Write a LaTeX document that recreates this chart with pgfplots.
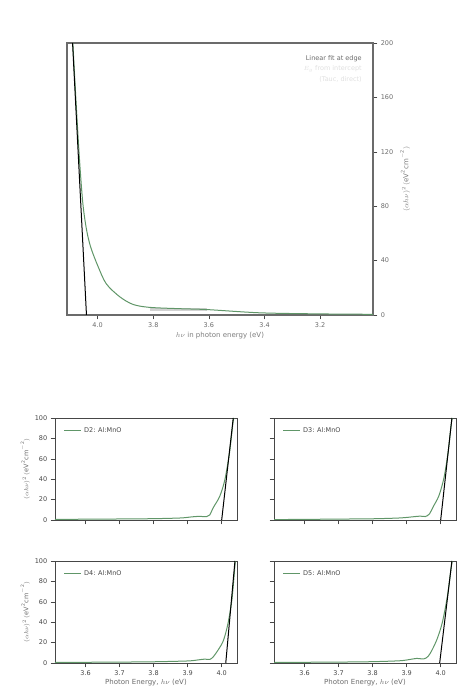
\documentclass[border=0pt]{standalone}
\usepackage{fontspec}
\setmainfont{DejaVu Sans}
\usepackage{pgfplots}
\pgfplotsset{compat=1.18}

\definecolor{curve}{RGB}{96,150,104}
\definecolor{frame}{RGB}{70,70,70}

\pgfplotsset{
  tauc/.style={
    scale only axis, width=182pt, height=102pt,
    xmin=3.51, xmax=4.045, ymin=0, ymax=100,
    xtick={3.6,3.7,3.8,3.9,4.0},
    ytick={0,20,40,60,80,100},
    tick align=outside, tick pos=left,
    axis line style={frame, line width=0.9pt},
    every tick/.style={frame},
    tick label style={font=\fontsize{6.5}{7}\selectfont, text=frame},
    /pgf/number format/assume math mode=true,
    /pgf/number format/fixed, /pgf/number format/precision=1,
    xticklabel style={/pgf/number format/fixed zerofill},
    legend style={draw=none, fill=none, at={(0.03,0.95)}, anchor=north west,
      font=\fontsize{6.5}{7}\selectfont, text=frame},
    legend cell align=left,
    legend image post style={line width=1.4pt},
  },
  fitline/.style={black, line width=1pt},
  datacurve/.style={curve, line width=1pt, smooth},
}

\begin{document}
\begin{tikzpicture}

% overview curve with the fitted edge
\begin{axis}[
  at={(67pt,383pt)}, anchor=south west,
  scale only axis, width=306pt, height=272pt,
  x dir=reverse, xmin=3.01, xmax=4.11, ymin=0, ymax=200,
  xtick={4.0,3.8,3.6,3.4,3.2},
  ytick={0,40,80,120,160,200},
  tick align=outside,
  xtick pos=bottom, ytick pos=right, yticklabel pos=right,
  axis line style={frame!80, line width=1.1pt},
  every tick/.style={frame},
  tick label style={font=\fontsize{6.5}{7}\selectfont, text=frame!80},
  /pgf/number format/assume math mode=true,
  xticklabel style={/pgf/number format/fixed, /pgf/number format/fixed zerofill, /pgf/number format/precision=1},
  xlabel={$h\nu$ in photon energy (eV)},
  xlabel style={font=\fontsize{7}{8}\selectfont, text=frame!70, yshift=2pt},
  ylabel={$(\alpha h\nu)^2\,(\mathrm{eV^2cm^{-2}})$},
  ylabel style={font=\fontsize{7}{8}\selectfont, text=frame!70},
  legend style={draw=none, fill=none, at={(0.98,0.97)}, anchor=north east,
    font=\fontsize{6.5}{7}\selectfont, text=frame!80},
  legend cell align=right,
]
\addplot[gray!35, line width=3pt, forget plot] coordinates {(3.813,4) (3.608,4)};
\addplot[datacurve, forget plot] coordinates {
  (4.089,200) (4.077,155) (4.065,114) (4.053,82) (4.04,63) (4.025,50)
  (3.999,36) (3.969,23) (3.921,13.5) (3.873,7.8) (3.813,5.6) (3.7,4.6)
  (3.608,4) (3.416,1.6) (3.2,0.8) (3.009,0.5)
};
\addplot[fitline, forget plot] coordinates {(4.090,200) (4.040,0)};
\addlegendimage{empty legend}
\addlegendentry{Linear fit at edge}
\addlegendimage{empty legend}
\addlegendentry{\textcolor{gray!25}{$E_g$ from intercept}}
\addlegendimage{empty legend}
\addlegendentry{\textcolor{gray!25}{(Tauc, direct)}}
\end{axis}

% D2
\begin{axis}[tauc, at={(55pt,178pt)}, anchor=south west,
  xticklabels={},
  ylabel={$(\alpha h\nu)^2\,(\mathrm{eV^2cm^{-2}})$},
  ylabel style={font=\fontsize{6.5}{7}\selectfont, text=frame!80, yshift=-2pt}]
\addplot[datacurve] coordinates {
  (3.51,0.5) (3.6,0.8) (3.7,1.0) (3.8,1.3) (3.88,2) (3.91,3) (3.935,3.6)
  (3.955,3.2) (3.965,5) (3.975,12) (3.994,23) (4.009,39) (4.023,66)
  (4.033,95) (4.036,100)
};
\addlegendentry{D2: Al:MnO}
\addplot[fitline] coordinates {(4.0,0) (4.034,100)};
\end{axis}

% D3
\begin{axis}[tauc, at={(274pt,178pt)}, anchor=south west,
  xticklabels={}, yticklabels={}]
\addplot[datacurve] coordinates {
  (3.51,0.4) (3.6,0.6) (3.7,0.9) (3.8,1.2) (3.88,2) (3.92,3.2) (3.94,3.8)
  (3.955,3.4) (3.967,6) (3.978,13) (3.995,24) (4.01,42) (4.022,67)
  (4.031,94) (4.034,100)
};
\addlegendentry{D3: Al:MnO}
\addplot[fitline] coordinates {(4.0,0) (4.033,100)};
\end{axis}

% D4
\begin{axis}[tauc, at={(55pt,35pt)}, anchor=south west,
  xlabel={Photon Energy, $h\nu$ (eV)},
  xlabel style={font=\fontsize{7}{8}\selectfont, text=frame!80, yshift=3pt},
  ylabel={$(\alpha h\nu)^2\,(\mathrm{eV^2cm^{-2}})$},
  ylabel style={font=\fontsize{6.5}{7}\selectfont, text=frame!80, yshift=-2pt}]
\addplot[datacurve] coordinates {
  (3.51,0.5) (3.6,0.7) (3.7,0.9) (3.8,1.2) (3.9,2) (3.93,3) (3.95,3.8)
  (3.965,3.5) (3.975,6) (3.99,13) (4.005,22) (4.018,38) (4.03,62)
  (4.038,92) (4.04,100)
};
\addlegendentry{D4: Al:MnO}
\addplot[fitline] coordinates {(4.012,0) (4.039,100)};
\end{axis}

% D5
\begin{axis}[tauc, at={(274pt,35pt)}, anchor=south west,
  yticklabels={},
  xlabel={Photon Energy, $h\nu$ (eV)},
  xlabel style={font=\fontsize{7}{8}\selectfont, text=frame!80, yshift=3pt}]
\addplot[datacurve] coordinates {
  (3.51,0.5) (3.6,0.7) (3.7,0.9) (3.8,1.3) (3.88,2.2) (3.91,3.5) (3.93,4.5)
  (3.95,4) (3.963,6.5) (3.975,13) (3.99,24) (4.005,40) (4.02,66)
  (4.031,94) (4.034,100)
};
\addlegendentry{D5: Al:MnO}
\addplot[fitline] coordinates {(3.997,0) (4.033,100)};
\end{axis}

\pgfresetboundingbox
\path[use as bounding box] (0pt,0pt) rectangle (458pt,698pt);
\end{tikzpicture}
\end{document}
